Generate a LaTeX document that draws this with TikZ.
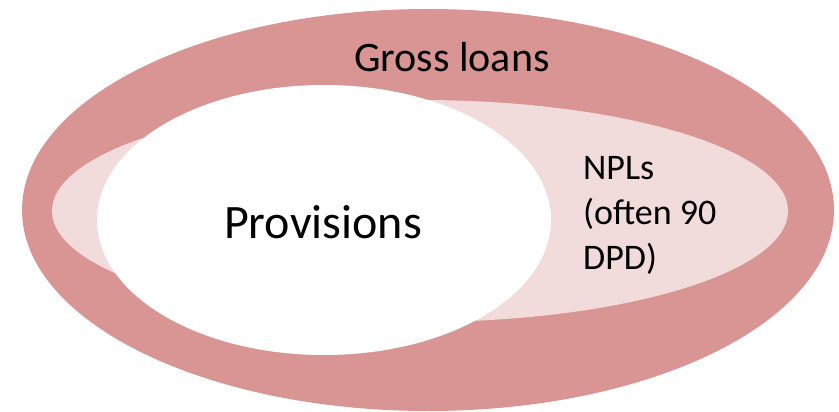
\documentclass[tikz,border=0pt]{standalone}
\usepackage{fontspec}
\setmainfont{Carlito}
\usetikzlibrary{shapes.geometric}
\definecolor{darkpink}{HTML}{D99594}
\definecolor{lightpink}{HTML}{F2DCDB}
\tikzset{
  blob/.style={ellipse, draw=none, inner sep=0pt},
  lbl/.style={inner sep=0pt, text=black}
}
\begin{document}
\begin{tikzpicture}[x=1pt, y=-1pt]
\useasboundingbox (0,0) rectangle (839,412);
\node[blob, fill=darkpink, minimum width=812pt, minimum height=402pt] (gross) at (428,210) {};
\node[blob, fill=lightpink, minimum width=736pt, minimum height=222pt] (npl) at (420,211) {};
\node[blob, fill=white, minimum width=454pt, minimum height=270pt] (prov) at (324,220) {};
\node[lbl, anchor=base, font=\fontsize{42}{50}\selectfont] (tgross) at (452,72) {Gross loans};
\node[lbl, anchor=base, font=\fontsize{48}{56}\selectfont] (tprov) at (323,238) {Provisions};
\node[lbl, anchor=base west, align=left, font=\fontsize{36}{45}\selectfont] (tnpl) at (583,269) {NPLs\\(often 90\\DPD)};
\end{tikzpicture}
\end{document}
